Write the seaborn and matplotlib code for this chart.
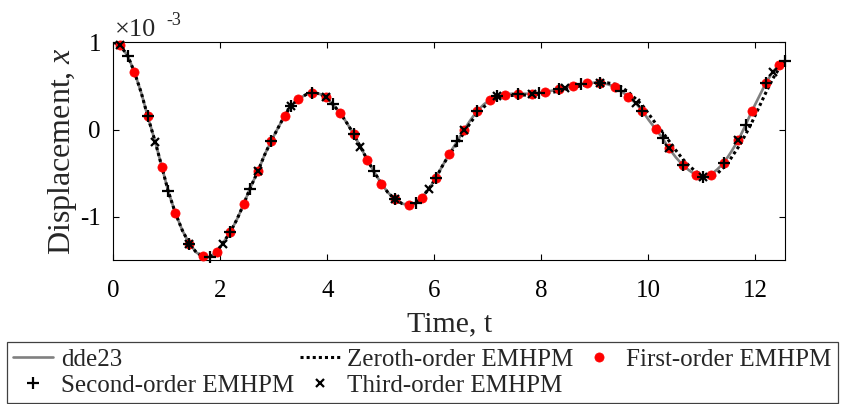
import numpy as np
import pandas as pd
import matplotlib
matplotlib.use("Agg")
import matplotlib.pyplot as plt
import seaborn as sns

# ---- data (displacement in units of 1e-3) ----
t_dde = [0.0, 0.125, 0.27, 0.39, 0.52, 0.64, 0.78, 0.905, 1.02, 1.155, 1.29, 1.42, 1.55, 1.67, 1.74,
         1.81, 1.93, 2.04, 2.18, 2.31, 2.44, 2.55, 2.70, 2.82, 2.95, 3.08, 3.20, 3.32, 3.46, 3.60,
         3.72, 3.85, 3.97, 4.10, 4.24, 4.37, 4.49, 4.62, 4.75, 4.87, 5.01, 5.13, 5.26, 5.40, 5.52,
         5.65, 5.77, 5.90, 6.03, 6.15, 6.28, 6.43, 6.55, 6.68, 6.80, 6.93, 7.05, 7.18, 7.32, 7.45,
         7.57, 7.70, 7.83, 7.96, 8.08, 8.20, 8.33, 8.45, 8.60, 8.74, 8.86, 8.98, 9.10, 9.24, 9.38,
         9.49, 9.63, 9.77, 9.89, 10.01, 10.14, 10.27, 10.39, 10.52, 10.65, 10.77, 10.89, 11.03,
         11.17, 11.29, 11.42, 11.55, 11.69, 11.83, 11.94, 12.07, 12.20, 12.33, 12.45, 12.566]
x_dde = [1.00, 0.967, 0.84, 0.66, 0.42, 0.15, -0.14, -0.43, -0.70, -0.955, -1.16, -1.31, -1.41, -1.455, -1.468,
         -1.46, -1.40, -1.31, -1.18, -1.03, -0.85, -0.68, -0.48, -0.30, -0.13, 0.02, 0.158, 0.27, 0.35, 0.40,
         0.42, 0.41, 0.37, 0.29, 0.19, 0.07, -0.05, -0.20, -0.35, -0.48, -0.62, -0.72, -0.80, -0.85, -0.866,
         -0.845, -0.78, -0.68, -0.556, -0.42, -0.28, -0.135, -0.01, 0.11, 0.21, 0.29, 0.34, 0.38, 0.40, 0.41,
         0.41, 0.41, 0.41, 0.42, 0.43, 0.445, 0.46, 0.48, 0.50, 0.52, 0.53, 0.537, 0.537, 0.52, 0.49,
         0.445, 0.376, 0.30, 0.216, 0.11, 0.006, -0.10, -0.216, -0.32, -0.41, -0.47, -0.52, -0.55,
         -0.52, -0.46, -0.38, -0.26, -0.12, 0.06, 0.21, 0.37, 0.53, 0.66, 0.74, 0.79]

t_zero = [0.0, 0.125, 0.27, 0.39, 0.52, 0.64, 0.78, 0.905, 1.02, 1.155, 1.29, 1.42, 1.55, 1.67, 1.74,
          1.81, 1.93, 2.04, 2.18, 2.31, 2.44, 2.55, 2.70, 2.82, 2.95, 3.08, 3.20, 3.32, 3.46, 3.60,
          3.72, 3.85, 3.97, 4.10, 4.24, 4.37, 4.49, 4.62, 4.75, 4.87, 5.01, 5.13, 5.26, 5.40, 5.52,
          5.65, 5.77, 5.90, 6.03, 6.15, 6.28, 6.43, 6.55, 6.68, 6.80, 6.93, 7.05, 7.18, 7.32, 7.45,
          7.57, 7.70, 7.83, 7.96, 8.08, 8.20, 8.33, 8.45, 8.60, 8.74, 8.86, 8.98, 9.10, 9.24, 9.38,
          9.49, 9.63, 9.77, 9.89, 10.01, 10.14, 10.27, 10.39, 10.52, 10.65, 10.77, 10.89, 11.03,
          11.15, 11.27, 11.42, 11.55, 11.69, 11.83, 11.94, 12.07, 12.20, 12.33, 12.45, 12.566]
x_zero = [1.00, 0.967, 0.84, 0.66, 0.42, 0.15, -0.14, -0.43, -0.70, -0.955, -1.16, -1.31, -1.41, -1.455, -1.468,
          -1.46, -1.40, -1.31, -1.18, -1.03, -0.85, -0.68, -0.48, -0.30, -0.13, 0.02, 0.158, 0.27, 0.35, 0.40,
          0.42, 0.41, 0.37, 0.29, 0.19, 0.07, -0.05, -0.20, -0.35, -0.48, -0.62, -0.72, -0.80, -0.85, -0.866,
          -0.845, -0.78, -0.68, -0.556, -0.42, -0.29, -0.16, -0.04, 0.08, 0.18, 0.26, 0.32, 0.36, 0.385, 0.39,
          0.395, 0.395, 0.40, 0.405, 0.415, 0.425, 0.44, 0.46, 0.48, 0.50, 0.515, 0.53, 0.535, 0.535, 0.52,
          0.49, 0.43, 0.35, 0.28, 0.18, 0.07, -0.03, -0.13, -0.24, -0.34, -0.42, -0.48, -0.53,
          -0.545, -0.52, -0.43, -0.33, -0.20, -0.05, 0.08, 0.25, 0.42, 0.58, 0.70, 0.78]

t_first = [0.125, 0.39, 0.64, 0.905, 1.155, 1.42, 1.67, 1.93, 2.18, 2.44, 2.70, 2.95, 3.20, 3.46, 3.72,
           3.97, 4.24, 4.49, 4.75, 5.01, 5.26, 5.52, 5.77, 6.03, 6.28, 6.55, 6.80, 7.05, 7.32, 7.57,
           7.83, 8.08, 8.33, 8.60, 8.86, 9.10, 9.38, 9.63, 9.89, 10.14, 10.39, 10.65, 10.89, 11.17,
           11.42, 11.69, 11.94, 12.20, 12.45]
x_first = [0.967, 0.66, 0.15, -0.43, -0.955, -1.31, -1.455, -1.40, -1.18, -0.85, -0.48, -0.13, 0.158, 0.35, 0.42,
           0.37, 0.19, -0.05, -0.35, -0.62, -0.80, -0.866, -0.78, -0.556, -0.28, -0.01, 0.21, 0.34, 0.40, 0.41,
           0.41, 0.43, 0.46, 0.50, 0.53, 0.537, 0.49, 0.376, 0.216, 0.006, -0.216, -0.41, -0.52, -0.52,
           -0.38, -0.12, 0.21, 0.53, 0.74]

t_second = [0.27, 0.64, 1.02, 1.42, 1.81, 2.18, 2.55, 2.95, 3.32, 3.72, 4.10, 4.49, 4.87, 5.26, 5.65,
            6.03, 6.43, 6.80, 7.18, 7.57, 7.96, 8.33, 8.74, 9.10, 9.49, 9.89, 10.27, 10.65, 11.03,
            11.42, 11.83, 12.20, 12.566]
x_second = [0.84, 0.15, -0.70, -1.31, -1.46, -1.18, -0.68, -0.13, 0.27, 0.42, 0.29, -0.05, -0.48, -0.80, -0.845,
            -0.556, -0.135, 0.21, 0.38, 0.41, 0.42, 0.46, 0.52, 0.537, 0.445, 0.216, -0.10, -0.41, -0.55,
            -0.38, 0.05, 0.53, 0.79]

t_third = [0.125, 0.78, 1.42, 2.04, 2.70, 3.32, 3.97, 4.62, 5.26, 5.90, 6.55, 7.18, 7.83, 8.45, 9.10,
           9.77, 10.39, 11.03, 11.69, 12.33]
x_third = [0.967, -0.14, -1.31, -1.31, -0.48, 0.27, 0.37, -0.20, -0.80, -0.68, -0.01, 0.38, 0.41, 0.48, 0.537,
           0.30, -0.216, -0.55, -0.12, 0.66]

x_ticks = [0, 2, 4, 6, 8, 10, 12]
y_ticks = [-1, 0, 1]
labels = ["dde23", "Zeroth-order EMHPM", "First-order EMHPM", "Second-order EMHPM", "Third-order EMHPM"]

# ---- style ----
sns.set_style("ticks")
plt.rcParams["font.family"] = ["Liberation Serif", "DejaVu Serif"]
plt.rcParams["mathtext.fontset"] = "custom"
plt.rcParams["mathtext.rm"] = "Liberation Serif"
plt.rcParams["mathtext.it"] = "Liberation Serif:italic"
plt.rcParams["axes.unicode_minus"] = False

W, H = 844, 404
fig = plt.figure(figsize=(W / 100, H / 100), dpi=100)
ax = fig.add_axes([113.5 / W, 1 - 260.3 / H, (785.3 - 113.5) / W, (260.3 - 42.3) / H])

sns.lineplot(x=t_dde, y=x_dde, ax=ax, color="#808080", lw=1.9, sort=False, estimator=None,
             label=labels[0], zorder=2)
sns.lineplot(x=t_zero, y=x_zero, ax=ax, color="black", lw=2.2, sort=False, estimator=None,
             linestyle=(0, (1, 1)), dash_capstyle="butt", label=labels[1], zorder=3)
sns.lineplot(x=t_first, y=x_first, ax=ax, sort=False, estimator=None, linestyle="none",
             marker="o", markersize=6.6, color="red", markerfacecolor="red", markeredgecolor="red",
             markeredgewidth=0.5, label=labels[2], zorder=4, clip_on=False)
sns.lineplot(x=t_second, y=x_second, ax=ax, sort=False, estimator=None, linestyle="none",
             marker="+", markersize=8.5, color="black", markeredgecolor="black",
             markeredgewidth=1.6, label=labels[3], zorder=5, clip_on=False)
sns.lineplot(x=t_third, y=x_third, ax=ax, sort=False, estimator=None, linestyle="none",
             marker="x", markersize=6.2, color="black", markeredgecolor="black",
             markeredgewidth=1.6, label=labels[4], zorder=6, clip_on=False)

handles, labs = ax.get_legend_handles_labels()
if ax.get_legend() is not None:
    ax.get_legend().remove()

ax.set_xlim(0, 4 * np.pi)
ax.set_ylim(-1.5, 1.0)
ax.set_xticks(x_ticks)
ax.set_yticks(y_ticks)
ax.set_xticklabels([str(v) for v in x_ticks], fontfamily="Liberation Serif")
ax.set_yticklabels([str(v) for v in y_ticks], fontfamily="Liberation Serif")
ax.tick_params(direction="in", top=True, right=True, length=4.5, width=0.8,
               labelsize=18, colors="black")
ax.tick_params(axis="x", pad=14)
ax.tick_params(axis="y", pad=9)
for s in ax.spines.values():
    s.set_visible(True)
    s.set_color("black")
    s.set_linewidth(0.8)

ax.set_xlabel("Time, t", fontsize=21.5, labelpad=7)
ax.set_ylabel("Displacement, $\\mathit{x}$", fontsize=23, labelpad=1)

fig.text(115 / W, 1 - 36 / H, "×10", fontsize=19, va="baseline", ha="left",
         fontfamily="Liberation Serif")
fig.text(166 / W, 1 - 25 / H, "-3", fontsize=13, va="baseline", ha="left",
         fontfamily="Liberation Serif")

order = [0, 3, 1, 4, 2]
leg = fig.legend([handles[i] for i in order], [labs[i] for i in order],
                 loc="upper left", bbox_to_anchor=(7 / W, 1 - 398 / H, (838 - 7) / W, 56 / H),
                 mode="expand", ncol=3, fontsize=18, frameon=True, fancybox=False,
                 framealpha=1, edgecolor="#404040", borderpad=0.25, labelspacing=0.15,
                 handlelength=1.6, handletextpad=0.3, columnspacing=0.3, borderaxespad=0)
leg.get_frame().set_linewidth(0.9)

fig.savefig("out.png", dpi=100)
